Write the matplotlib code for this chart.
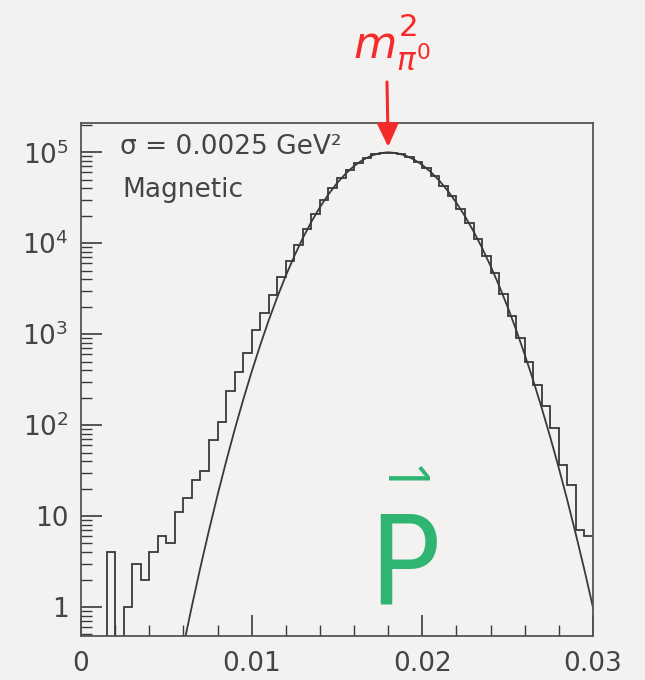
import numpy as np
import matplotlib
matplotlib.use("Agg")
import matplotlib.pyplot as plt
from matplotlib import font_manager
from matplotlib.ticker import FixedLocator, NullFormatter, LogLocator

plt.rcParams['font.family'] = ['DejaVu Sans']
plt.rcParams['mathtext.fontset'] = 'dejavusans'

# ---- data ----
bin_edges_lo = 0.0
bin_width = 0.0005
n_bins = 60
hist_counts = [0, 0, 0, 4, 0, 1, 3, 2, 4, 6,
               5, 11, 16, 25, 31, 68, 108, 240, 385, 620,
               1100, 1700, 2700, 4300, 6300, 9600, 14500, 21200, 29800, 40200,
               52000, 64500, 76700, 87300, 95200, 99500, 99400, 95500, 88200, 78400,
               66800, 54700, 43100, 32700, 23800, 16600, 11200, 7300, 4700, 2750,
               1600, 900, 500, 275, 162, 93, 36, 22, 7, 6]

curve_x = [0.0060, 0.0065, 0.0070, 0.0075, 0.0080, 0.0085, 0.0090, 0.0095, 0.0100, 0.0105,
           0.0110, 0.0115, 0.0120, 0.0125, 0.0130, 0.0135, 0.0140, 0.0145, 0.0150, 0.0155,
           0.0160, 0.0165, 0.0170, 0.0175, 0.0180, 0.0185, 0.0190, 0.0195, 0.0200, 0.0205,
           0.0210, 0.0215, 0.0220, 0.0225, 0.0230, 0.0235, 0.0240, 0.0245, 0.0250, 0.0255,
           0.0260, 0.0265, 0.0270, 0.0275, 0.0280, 0.0285, 0.0290, 0.0295, 0.0300]
curve_y = [0.37, 1.03, 2.75, 6.98, 17.0, 39.6, 88.4, 189, 386, 757,
           1422, 2553, 4395, 7240, 11420, 17240, 24930, 34530, 45780, 58120,
           70670, 82260, 91690, 97850, 100000, 98020, 92310, 83530, 72610, 60650,
           48680, 37530, 27800, 19790, 13530, 8892, 5613, 3404, 1986, 1111,
           597, 309, 153, 73.1, 33.6, 14.8, 6.25, 2.54, 0.99]

y_tick_vals = [1, 10, 100, 1000, 10000, 100000]
y_tick_labels = ['1', '10', r'$10^{2}$', r'$10^{3}$', r'$10^{4}$', r'$10^{5}$']
x_tick_vals = [0, 0.01, 0.02, 0.03]
x_tick_labels = ['0', '0.01', '0.02', '0.03']

label_sigma = 'σ = 0.0025 GeV²'
label_field = 'Magnetic'
peak_label = r'$m^{2}_{\pi^{0}}$'
peak_x = 0.018
hand_mark_top = '1'
hand_mark_bottom = 'P'


def pick_family(candidates):
    for fam in candidates:
        try:
            font_manager.findfont(font_manager.FontProperties(family=fam),
                                  fallback_to_default=False)
            return fam
        except Exception:
            continue
    return 'DejaVu Sans'


narrow_family = pick_family(['Liberation Sans Narrow', 'Roboto Condensed',
                             'Open Sans Condensed', 'Liberation Sans'])
plain_family = pick_family(['Open Sans', 'Liberation Sans', 'Roboto'])

# ---- figure ----
bg = '#f4f1f1'
ink = '#3a3a3a'
fig = plt.figure(figsize=(6.45, 6.8), dpi=100, facecolor=bg)
ax = fig.add_axes([81/645, 1-636/680, (593-81)/645, (636-123)/680], facecolor=bg)

edges = bin_edges_lo + bin_width*np.arange(n_bins+1)
counts = np.asarray(hist_counts, dtype=float)
counts_plot = np.where(counts > 0, counts, 1e-3)
ax.stairs(counts_plot, edges, baseline=None, color=ink, lw=1.3)
ax.plot(curve_x, curve_y, color=ink, lw=1.3)

ax.set_yscale('log')
ax.set_xlim(0, 0.03)
ax.set_ylim(0.48, 2.1e5)

ax.yaxis.set_major_locator(FixedLocator(y_tick_vals))
ax.set_yticklabels(y_tick_labels)
ax.yaxis.set_minor_locator(LogLocator(base=10, subs=np.arange(2, 10), numticks=20))
ax.yaxis.set_minor_formatter(NullFormatter())
ax.xaxis.set_major_locator(FixedLocator(x_tick_vals))
ax.set_xticklabels(x_tick_labels)
ax.xaxis.set_minor_locator(FixedLocator(np.arange(0.002, 0.03, 0.002)))

ax.tick_params(axis='both', which='major', direction='in', length=15, width=1.2,
               color=ink, labelsize=19, labelcolor='#444444')
ax.tick_params(axis='both', which='minor', direction='in', length=8, width=1.0, color=ink)
ax.tick_params(axis='y', which='major', pad=9)
ax.tick_params(axis='x', which='major', pad=11)
ax.tick_params(top=False, right=False, which='both')
for s in ax.spines.values():
    s.set_color('#555555')
    s.set_linewidth(1.3)

ax.text(0.076, 0.953, label_sigma, transform=ax.transAxes, fontsize=19,
        color='#444444', va='center', ha='left')
ax.text(0.080, 0.869, label_field, transform=ax.transAxes, fontsize=19,
        color='#444444', va='center', ha='left')

# red handwritten-style annotation
red = '#f52a2a'
fig.text(392/645, 1-42/680, peak_label, color=red, fontsize=32,
         ha='center', va='center')
ax.annotate('', xy=(peak_x, 1.15e5), xycoords='data',
            xytext=(387, 680-82), textcoords='figure pixels',
            arrowprops=dict(arrowstyle='-|>,head_length=1.4,head_width=0.65',
                            color=red, lw=2.2, shrinkA=0, shrinkB=0))

# green handwritten mark
green = '#2fb571'
fig.text(398/645, 1-480/680, hand_mark_top, color=green, fontsize=40, rotation=-90,
         family=[plain_family, 'DejaVu Sans'], ha='center', va='center')
fig.text(370/645, 1-605/680, hand_mark_bottom, color=green, fontsize=92,
         family=[narrow_family, 'DejaVu Sans'], ha='left', va='baseline')

fig.savefig('out.png', dpi=100, facecolor=bg)
